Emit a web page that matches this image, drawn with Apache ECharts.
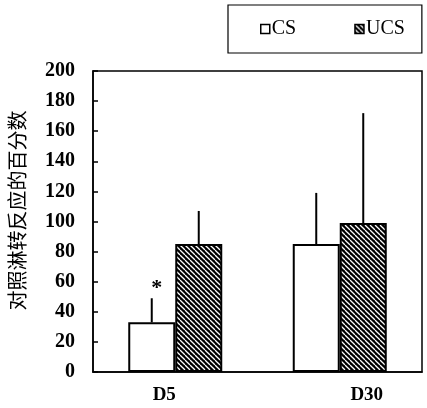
<!DOCTYPE html>
<html>
<head>
<meta charset="utf-8">
<script src="https://cdn.jsdelivr.net/npm/echarts@6/dist/echarts.min.js"></script>
<style>
  html, body { margin: 0; padding: 0; background: #fff; }
  #chart { width: 427px; height: 408px; }
</style>
</head>
<body>
<div id="chart"></div>
<script>
// grouped bars with one-sided error bars, CS vs UCS
var categories = ['D5', 'D30'];
var seriesNames = ['CS', 'UCS'];
var csValues = [33, 85];
var ucsValues = [85, 99];
var csErrTop = [49, 119];
var ucsErrTop = [107, 172];
var csMarks = ['*', ''];
var yTicks = [0, 200, 20];

var SERIF = '"Liberation Serif", "DejaVu Serif", serif';

// black hatch with white "\" lines
function hatch() {
    var c = document.createElement('canvas');
    c.width = 5; c.height = 5;
    var g = c.getContext('2d');
    g.fillStyle = '#000';
    g.fillRect(0, 0, 5, 5);
    g.strokeStyle = '#fff';
    g.lineWidth = 1.3;
    for (var k = -1; k <= 1; k++) {
        g.beginPath();
        g.moveTo(k * 5, 0);
        g.lineTo(k * 5 + 5, 5);
        g.stroke();
    }
    return c;
}

var BAR_W = 47;

function errSeries(tops, bases, offset, marks) {
    var data = [];
    for (var i = 0; i < tops.length; i++) data.push([i, bases[i], tops[i]]);
    return {
        type: 'custom',
        silent: true,
        z: 5,
        data: data,
        renderItem: function (params, api) {
            var i = api.value(0);
            var p0 = api.coord([i, api.value(1)]);
            var p1 = api.coord([i, api.value(2)]);
            var x = p0[0] + offset;
            var kids = [{
                type: 'line',
                shape: { x1: x, y1: p0[1], x2: x, y2: p1[1] },
                style: { stroke: '#000', lineWidth: 2 }
            }];
            if (marks && marks[i]) {
                kids.push({
                    type: 'text',
                    style: {
                        text: marks[i], x: x + 5, y: p1[1] - 10,
                        textAlign: 'center', textVerticalAlign: 'middle',
                        font: 'bold 22px ' + SERIF, fill: '#000'
                    }
                });
            }
            return { type: 'group', children: kids };
        }
    };
}

var chart = echarts.init(document.getElementById('chart'), null, { renderer: 'canvas' });
chart.setOption({
    animation: false,
    backgroundColor: '#fff',
    grid: {
        left: 93, right: 5, top: 71, bottom: 36,
        containLabel: false, outerBoundsMode: 'none',
        show: true, borderColor: '#000', borderWidth: 1.5
    },
    legend: {
        data: seriesNames,
        left: 228, top: 5,
        padding: [14, 17, 14, 32],
        itemGap: 58,
        icon: 'rect',
        itemWidth: 9, itemHeight: 9,
        borderColor: '#000', borderWidth: 1.2,
        itemStyle: { borderColor: '#000', borderWidth: 1.5 },
        textStyle: { fontFamily: SERIF, fontSize: 20, color: '#000', padding: [0, 0, 0, -3] }
    },
    xAxis: {
        type: 'category',
        data: categories,
        axisLine: { lineStyle: { color: '#000', width: 1.5 } },
        axisTick: { show: false },
        axisLabel: {
            margin: 14,
            formatter: function (v) { return v === 'D5' ? '{a|' + v + '}' : '{b|' + v + '}'; },
            rich: {
                a: { fontFamily: SERIF, fontSize: 19, fontWeight: 'bold', color: '#000', padding: [0, 22, 0, 0] },
                b: { fontFamily: SERIF, fontSize: 19, fontWeight: 'bold', color: '#000', padding: [0, 0, 0, 54] }
            }
        }
    },
    yAxis: {
        type: 'value',
        min: yTicks[0], max: yTicks[1], interval: yTicks[2],
        name: '对照淋转反应的百分数',
        nameLocation: 'middle',
        nameGap: 66,
        nameTextStyle: { fontFamily: '"Noto Sans CJK SC", sans-serif', fontSize: 20, color: '#000', padding: [0, 0, 0, 22] },
        axisLine: { show: true, lineStyle: { color: '#000', width: 1.5 } },
        axisTick: { show: true, inside: true, length: 5, lineStyle: { color: '#000', width: 1.5 } },
        splitLine: { show: false },
        axisLabel: { margin: 18, fontFamily: SERIF, fontSize: 20, fontWeight: 'bold', color: '#000' }
    },
    series: [
        {
            name: seriesNames[0], type: 'bar', data: csValues,
            barWidth: BAR_W, barGap: '0%',
            itemStyle: { color: '#fff', borderColor: '#000', borderWidth: 2 }
        },
        {
            name: seriesNames[1], type: 'bar', data: ucsValues,
            barWidth: BAR_W, barGap: '0%',
            itemStyle: { color: { image: hatch(), repeat: 'repeat' }, borderColor: '#000', borderWidth: 2 }
        },
        errSeries(csErrTop, csValues, -BAR_W / 2, csMarks),
        errSeries(ucsErrTop, ucsValues, BAR_W / 2, null)
    ]
});
</script>
</body>
</html>
